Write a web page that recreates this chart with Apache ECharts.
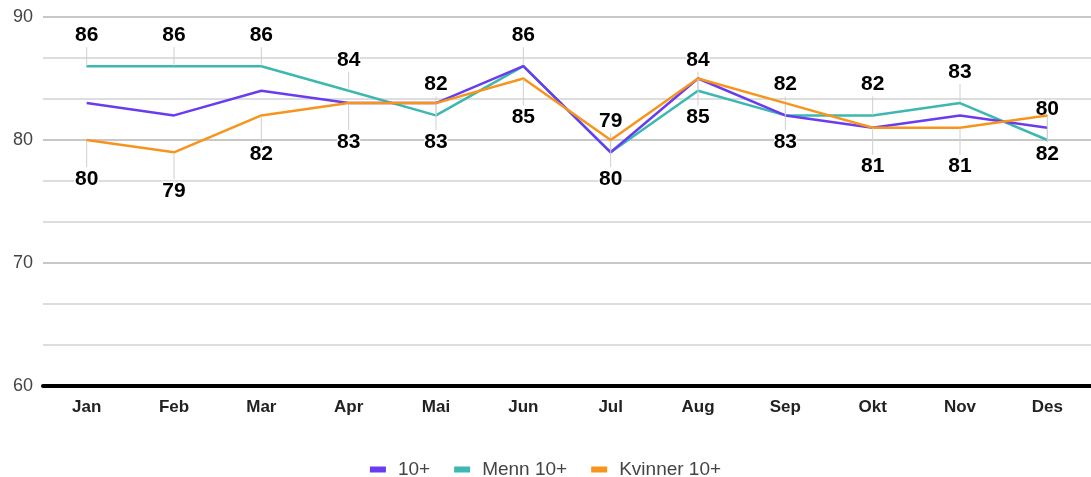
<!DOCTYPE html>
<html>
<head>
<meta charset="utf-8">
<script src="https://cdn.jsdelivr.net/npm/echarts@6/dist/echarts.min.js"></script>
<style>
  html, body { margin: 0; padding: 0; background: #fff; }
  #chart { width: 1091px; height: 477px; }
</style>
</head>
<body>
<div id="chart"></div>
<script>
// Monthly values
const months = ['Jan', 'Feb', 'Mar', 'Apr', 'Mai', 'Jun', 'Jul', 'Aug', 'Sep', 'Okt', 'Nov', 'Des']
const total10 = [83, 82, 84, 83, 83, 86, 79, 85, 82, 81, 82, 81]
const menn10 = [86, 86, 86, 84, 82, 86, 79, 84, 82, 82, 83, 80]
const kvinner10 = [80, 79, 82, 83, 83, 85, 80, 85, 83, 81, 81, 82]
const yTicks = [60, 70, 80, 90]

const FONT = '"Liberation Sans", Arial, sans-serif'

const valueLabel = (position, dy) => ({
  label: {
    show: true,
    position: position,
    distance: 5,
    fontFamily: FONT,
    fontSize: 21,
    fontWeight: 'bold',
    color: '#000',
    textBorderColor: '#fff',
    textBorderWidth: 3,
  },
  labelLayout: { dy: dy },
  labelLine: { show: true, lineStyle: { color: '#cfcfcf', width: 1 } },
})

const chart = echarts.init(document.getElementById('chart'), null, { renderer: 'canvas' })

chart.setOption({
  animation: false,
  textStyle: { fontFamily: FONT },
  grid: { left: 43, right: 0, top: 17, bottom: 91 },
  legend: {
    bottom: -7,
    left: 'center',
    itemWidth: 16,
    itemHeight: 6,
    itemGap: 24,
    icon: 'rect',
    textStyle: { fontFamily: FONT, fontSize: 19, color: '#444', padding: [0, 0, 0, 7] },
    data: ['10+', 'Menn 10+', 'Kvinner 10+'],
  },
  xAxis: {
    type: 'category',
    data: months,
    boundaryGap: true,
    axisLine: { show: true, onZero: false, lineStyle: { color: '#000', width: 4 } },
    axisTick: { show: false },
    axisLabel: { fontFamily: FONT, fontSize: 17, fontWeight: 'bold', color: '#222', margin: 13 },
  },
  yAxis: {
    type: 'value',
    min: yTicks[0],
    max: yTicks[yTicks.length - 1],
    interval: 10,
    axisLine: { show: false },
    axisTick: { show: false },
    axisLabel: { fontFamily: FONT, fontSize: 18, color: '#444', margin: 10 },
    splitLine: { show: true, lineStyle: { color: '#c8c8c8', width: 2 } },
    minorTick: { show: false, splitNumber: 3 },
    minorSplitLine: { show: true, lineStyle: { color: '#d2d2d2', width: 1.5 } },
  },
  series: [
    {
      name: '10+', type: 'line', data: total10,
      color: '#6a3cf0',
      lineStyle: { width: 2.5 },
      symbol: 'none',
      z: 3,
    },
    Object.assign({
      name: 'Menn 10+', type: 'line', data: menn10,
      color: '#3cb8b0',
      lineStyle: { width: 2.5 },
      symbol: 'circle', symbolSize: 1, showSymbol: true,
      z: 2,
    }, valueLabel('top', -15)),
    Object.assign({
      name: 'Kvinner 10+', type: 'line', data: kvinner10,
      color: '#f7941d',
      lineStyle: { width: 2.5 },
      symbol: 'circle', symbolSize: 1, showSymbol: true,
      z: 4,
    }, valueLabel('bottom', 23)),
  ],
})

window.addEventListener('resize', () => chart.resize())
</script>
</body>
</html>
